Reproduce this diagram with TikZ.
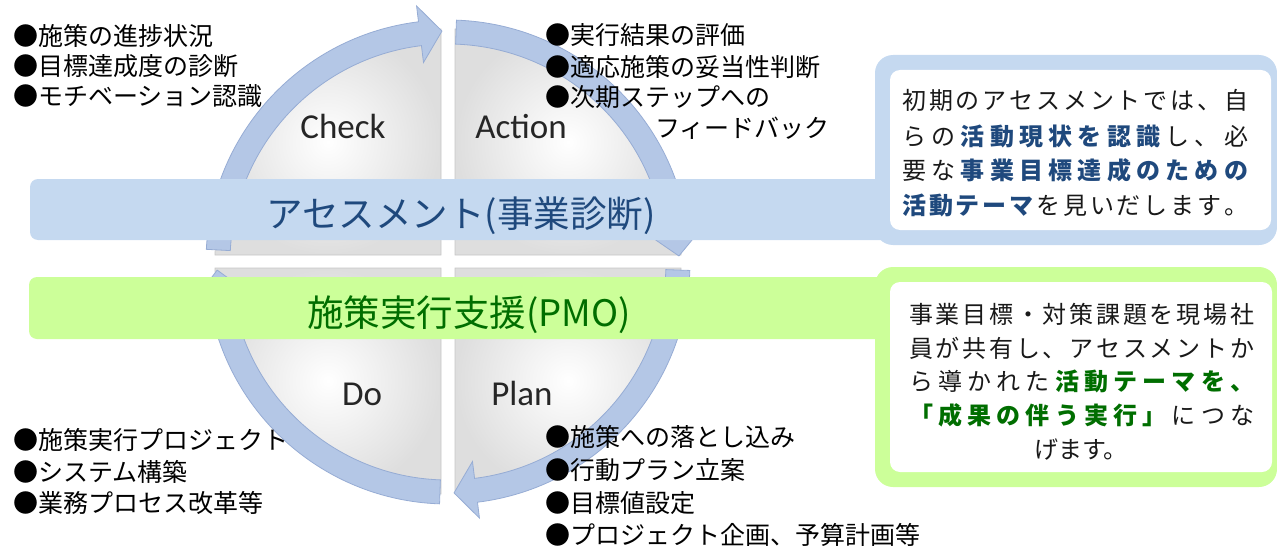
\documentclass[tikz,border=0pt]{standalone}
\usepackage{fontspec}
\newfontfamily\jpfont{Noto Sans CJK JP}
\newfontfamily\latfont{Carlito}
\definecolor{bandblue}{RGB}{197,217,240}
\definecolor{bandgreen}{RGB}{204,255,153}
\definecolor{ringblue}{RGB}{180,199,230}
\definecolor{ringedge}{RGB}{150,172,212}
\definecolor{titleblue}{RGB}{31,73,125}
\definecolor{titlegreen}{RGB}{0,110,0}
\newcommand\jline[2]{\makebox[#1][s]{\spaceskip=0pt plus 1fil\relax #2}}
\newcommand\hlb[1]{{\color{titleblue}\bfseries #1}}
\newcommand\hlg[1]{{\color{titlegreen}\bfseries #1}}

\begin{document}
\begin{tikzpicture}[x=1pt,y=-1pt,
  quad/.style={inner color=white,outer color=gray!26,draw=gray!45,line width=.6pt},
  ring/.style={fill=ringblue,draw=ringedge,line width=.8pt},
  list/.style={font=\jpfont\fontsize{25}{30}\selectfont,anchor=base west,inner sep=0pt},
  phase/.style={font=\latfont\fontsize{35}{40}\selectfont,text=black!85,anchor=base,inner sep=0pt},
  title/.style={font=\jpfont\fontsize{36.5}{40}\selectfont,anchor=base,inner sep=0pt},
  boxtxt/.style={font=\jpfont\fontsize{24}{28}\selectfont,text=black!90,anchor=base west,inner sep=0pt}]
\useasboundingbox (0,0) rectangle (1277,551);
\shadedraw[quad] (441,255) -- ++(180:226) arc[start angle=180,end angle=270,radius=226] -- cycle;
\shadedraw[quad] (455,255) -- ++(270:226) arc[start angle=270,end angle=360,radius=226] -- cycle;
\shadedraw[quad] (455,268) -- ++(0:226) arc[start angle=0,end angle=90,radius=226] -- cycle;
\shadedraw[quad] (441,268) -- ++(90:226) arc[start angle=90,end angle=180,radius=226] -- cycle;
\filldraw[ring,shift={(448,262)}] (183:242) arc[start angle=183,end angle=263,radius=242]
  -- (263:258) -- (268.5:231) -- (263:201) -- (263:218) arc[start angle=263,end angle=183,radius=218] -- cycle;
\filldraw[ring,shift={(448,262)}] (272:242) arc[start angle=272,end angle=352,radius=242]
  -- (352:258) -- (358.5:231) -- (352:201) -- (352:218) arc[start angle=352,end angle=272,radius=218] -- cycle;
\filldraw[ring,shift={(448,262)}] (2:242) arc[start angle=2,end angle=83,radius=242]
  -- (83:258) -- (88.5:231) -- (83:201) -- (83:218) arc[start angle=83,end angle=2,radius=218] -- cycle;
\filldraw[ring,shift={(448,262)}] (92:242) arc[start angle=92,end angle=171,radius=242]
  -- (171:258) -- (178:231) -- (171:201) -- (171:218) arc[start angle=171,end angle=92,radius=218] -- cycle;
\node[phase] (check) at (343,138) {Check};
\node[phase] (action) at (521,138) {Action};
\node[phase] (do) at (362,405) {Do};
\node[phase] (plan) at (522,405) {Plan};
\fill[bandblue,rounded corners=18pt] (875,55) rectangle (1277,245);
\fill[bandblue,rounded corners=8pt] (30,179) rectangle (890,240);
\fill[white,rounded corners=10pt] (890,70) rectangle (1271,230);
\fill[bandgreen,rounded corners=18pt] (875,267) rectangle (1277,487);
\fill[bandgreen,rounded corners=8pt] (29,277) rectangle (890,339);
\fill[white,rounded corners=10pt] (890,282) rectangle (1272,472);
\node[title,text=titleblue] (assess) at (461,227) {アセスメント(事業診断)};
\node[title,text=titlegreen] (pmo) at (469,326) {施策実行支援(PMO)};
\node[list] (chk1) at (13,45.5) {●施策の進捗状況};
\node[list] (chk2) at (13,75.5) {●目標達成度の診断};
\node[list] (chk3) at (13,105.5) {●モチベーション認識};
\node[list] (act1) at (545,44.5) {●実行結果の評価};
\node[list] (act2) at (545,76.5) {●適応施策の妥当性判断};
\node[list] (act3) at (545,106.5) {●次期ステップへの};
\node[list] (act4) at (655,137.5) {フィードバック};
\node[list] (do1) at (13,449.5) {●施策実行プロジェクト};
\node[list] (do2) at (13,481) {●システム構築};
\node[list] (do3) at (13,512.5) {●業務プロセス改革等};
\node[list] (plan1) at (545,446.5) {●施策への落とし込み};
\node[list] (plan2) at (545,479.5) {●行動プラン立案};
\node[list] (plan3) at (545,512.5) {●目標値設定};
\node[list] (plan4) at (545,544.5) {●プロジェクト企画、予算計画等};
\node[boxtxt] (as1) at (902,110) {\jline{346pt}{初 期 の ア セ ス メ ン ト で は 、 自}};
\node[boxtxt] (as2) at (902,145) {\jline{346pt}{ら の \hlb{活 動 現 状 を 認 識} し 、 必}};
\node[boxtxt] (as3) at (902,179) {\jline{346pt}{要 な \hlb{事 業 目 標 達 成 の た め の}}};
\node[boxtxt] (as4) at (902,214) {\jline{346pt}{\hlb{活 動 テ ー マ} を 見 い だ し ま す 。}};
\node[boxtxt] (pm1) at (909,323) {\jline{345pt}{事 業 目 標 ・ 対 策 課 題 を 現 場 社}};
\node[boxtxt] (pm2) at (909,357) {\jline{345pt}{員 が 共 有 し 、 ア セ ス メ ン ト か}};
\node[boxtxt] (pm3) at (909,390.5) {\jline{345pt}{ら 導 か れ た \hlg{活 動 テ ー マ を 、}}};
\node[boxtxt] (pm4) at (909,424.5) {\jline{345pt}{\hlg{「 成 果 の 伴 う 実 行 」} に つ な}};
\node[boxtxt,anchor=base] (pm5) at (1081,458) {げます。};
\end{tikzpicture}
\end{document}
